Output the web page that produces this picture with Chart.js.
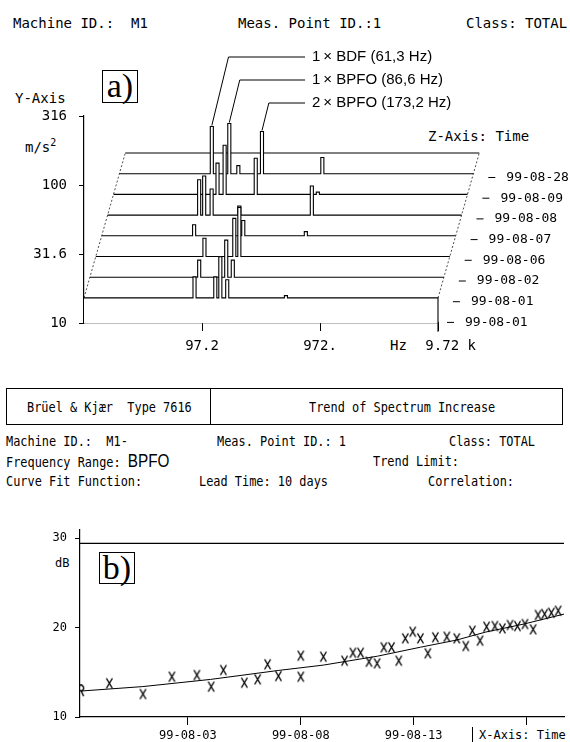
<!DOCTYPE html>
<html>
<head>
<meta charset="UTF-8">
<title>Trend of Spectrum Increase</title>
<script src="https://cdn.jsdelivr.net/npm/chart.js@4"></script>
<style>
  body { margin: 0; background: #fff; }
  #page { position: relative; width: 570px; height: 742px; overflow: hidden; color: #000;
          font-family: 'DejaVu Sans Mono', monospace; font-size: 14px; }
  .t { position: absolute; white-space: pre; line-height: 14px; }
  .n { transform: scaleX(0.85); transform-origin: left center; }
  .s { font-size: 12px; line-height: 12px; }
  .tag { position: absolute; border: 1.5px solid #000; box-sizing: border-box; text-align: center;
         font-family: 'Liberation Serif', serif; font-size: 34px; line-height: 30px; }
  .sans { font-family: 'Liberation Sans', sans-serif; font-size: 18px; }
  canvas { position: absolute; left: 0; }
</style>
</head>
<body>
<div id="page">
  <!-- header -->
  <div class="t" style="left:13px;top:16px">Machine ID.:  M1</div>
  <div class="t" style="left:238px;top:16px">Meas. Point ID.:1</div>
  <div class="t" style="left:466px;top:16px">Class: TOTAL</div>

  <!-- panel a texts -->
  <div class="tag" style="left:102px;top:70px;width:36px;height:33px">a)</div>
  <div class="t" style="left:15px;top:91px">Y-Axis</div>
  <div class="t" style="left:25px;top:136px">m/s<sup style="font-size:10px">2</sup></div>
  <div class="t" style="left:428px;top:129px">Z-Axis: Time</div>
  <div class="t" style="left:390px;top:338px">Hz</div>

  <canvas id="waterfall" width="570" height="370" style="top:0"></canvas>

  <!-- title box -->
  <div style="position:absolute;left:6px;top:388px;width:557px;height:37px;border:1.5px solid #000;box-sizing:border-box"></div>
  <div style="position:absolute;left:210px;top:388px;height:37px;border-left:1.5px solid #000"></div>
  <div class="t n" style="left:27px;top:400px">Brüel &amp; Kjær  Type 7616</div>
  <div class="t n" style="left:309px;top:400px">Trend of Spectrum Increase</div>

  <!-- trend info -->
  <div class="t n" style="left:6px;top:434px">Machine ID.:  M1-</div>
  <div class="t n" style="left:217px;top:434px">Meas. Point ID.: 1</div>
  <div class="t n" style="left:449px;top:434px">Class: TOTAL</div>
  <div class="t n" style="left:6px;top:454px">Frequency Range: <span class="sans">BPFO</span></div>
  <div class="t n" style="left:373px;top:454px">Trend Limit:</div>
  <div class="t n" style="left:6px;top:474px">Curve Fit Function:</div>
  <div class="t n" style="left:199px;top:474px">Lead Time: 10 days</div>
  <div class="t n" style="left:428px;top:474px">Correlation:</div>

  <!-- panel b texts -->
  <div class="t s" style="left:55px;top:557px">dB</div>
  <div class="tag" style="left:99px;top:552px;width:36px;height:32px">b)</div>
  <div style="position:absolute;left:472px;top:727px;height:15px;border-left:1px solid #000"></div>
  <div class="t s" style="left:479px;top:729px">X-Axis: Time</div>

  <canvas id="trend" width="570" height="242" style="top:500px"></canvas>
</div>

<script>
// ---------- panel a: spectra waterfall (front trace first) ----------
const traceDates = ['99-08-01', '99-08-01', '99-08-02', '99-08-06', '99-08-07', '99-08-08', '99-08-09', '99-08-28'];
const noiseFloor = [15.2, 15.2, 15.2, 15.2, 15.2, 15.2, 15.2, 15.2]; // m/s2
const spikeHz = [
    [84, 126, 139, 159, 500],
    [82, 139, 158],
    [81, 145, 160],
    [59, 154, 522],
    [58, 64, 74, 127, 523],
    [74, 85, 156, 524],
    [59, 83, 99, 157, 510],
    []
];
const spikeAmp = [
    [21.6, 21.6, 30.2, 20.6, 15.8],
    [20.2, 28.2, 20.2],
    [20.6, 28.7, 34.5],
    [18.3, 19.6, 16.3],
    [27.4, 29.2, 23.5, 17.7, 24.7],
    [25.6, 34.5, 27.8, 15.8],
    [33.4, 35.1, 17.4, 30.7, 19.9],
    []
];
const freqTicks = [97.2, 972, 9720];
const freqTickLabels = ['97.2', '972.', '   9.72 k'];
const ampTicks = [10, 31.6, 100, 316];
const ampTickLabels = ['10', '31.6', '100', '316'];
const peakTrace = 6; // 99-08-09
const peakHz = [59, 83, 157];
const peakLabels = ['1\u2009\u00d7 BDF (61,3 Hz)', '1\u2009\u00d7 BPFO (86,6 Hz)', '2\u2009\u00d7 BPFO (173,2 Hz)'];

// ---------- panel b: trend ----------
const refDay = [-1.75];
const refDb = [12.94];
const trendDay = [-0.48, 1.01, 2.29, 3.40, 4.03, 4.57, 5.50, 6.09, 6.53, 7.01, 8.00, 8.00, 9.00, 9.94,
    10.31, 10.65, 11.02, 11.38, 11.68, 12.02, 12.34, 12.63, 12.96, 13.30, 13.63, 13.96, 14.47, 14.91,
    15.31, 15.60, 15.94, 16.23, 16.60, 16.93, 17.27, 17.60, 17.93, 18.29, 18.51, 18.80, 19.10, 19.40];
const trendDb = [13.77, 12.57, 14.50, 14.69, 13.39, 15.25, 13.83, 14.21, 15.89, 14.58, 16.85, 14.50, 16.74, 16.29,
    17.18, 17.18, 16.18, 16.00, 17.79, 17.79, 16.29, 18.79, 19.53, 18.79, 17.12, 18.91, 18.97, 18.79,
    17.93, 19.64, 18.53, 20.09, 20.17, 19.91, 20.28, 20.17, 20.39, 19.80, 21.40, 21.51, 21.65, 21.88];
const fitDay = [-1.75, 1.0, 4.0, 7.0, 9.0, 11.4, 13.3, 14.9, 16.2, 17.9, 19.66];
const fitDb = [12.9, 13.4, 14.2, 15.2, 15.8, 16.8, 17.8, 18.6, 19.5, 20.4, 21.5];
const limitDb = [29.4];
const dayTicks = [3, 8, 13, 18];
const dayTickLabels = ['99-08-03', '99-08-08', '99-08-13', ''];

// waterfall geometry (decades)
const F_MIN = 9.72, F_MAX = 9720;
const DX = 0.05, DY = 0.15, SPIKE_W = 0.026, DROP = 0.175, FRONT_DROP = 0.245;
const MONO = 'DejaVu Sans Mono';

function baseOf(k) { return Math.log10(noiseFloor[k]) + k * DY; }

function tracePoints(k) {
    const ox = k * DX, base = baseOf(k);
    const pts = [{x: Math.log10(F_MIN) + ox, y: base}];
    spikeHz[k].forEach((f, i) => {
        const c = Math.log10(f) + ox, top = Math.log10(spikeAmp[k][i]) + k * DY;
        pts.push({x: c - SPIKE_W / 2, y: base}, {x: c - SPIKE_W / 2, y: top},
                 {x: c + SPIKE_W / 2, y: top}, {x: c + SPIKE_W / 2, y: base});
    });
    const xr = Math.log10(F_MAX) + ox;
    pts.push({x: xr, y: base}, {x: xr, y: base - (k === 0 ? FRONT_DROP : DROP)});
    return pts;
}

const last = traceDates.length - 1;
const wfSets = traceDates.map((d, k) => ({
    data: tracePoints(k),
    borderColor: '#000', borderWidth: 1.1, pointRadius: 0,
    fill: 'start', backgroundColor: '#fff', clip: false, order: k
}));
// perspective guides
[F_MIN, F_MAX].forEach(f => wfSets.push({
    data: [{x: Math.log10(f), y: baseOf(0)}, {x: Math.log10(f) + last * DX, y: baseOf(last)}],
    borderColor: '#000', borderWidth: 0.7, borderDash: [2, 2], pointRadius: 0,
    fill: false, clip: false, order: -1
}));

const wfLabels = {
    id: 'wfLabels',
    afterDatasetsDraw(chart) {
        const {ctx, scales: {x, y}} = chart;
        ctx.save();
        ctx.fillStyle = '#000';
        ctx.strokeStyle = '#000';
        ctx.lineWidth = 1;
        ctx.textBaseline = 'middle';
        ctx.font = '13px "' + MONO + '"';
        traceDates.forEach((d, k) => {
            const px = x.getPixelForValue(Math.log10(F_MAX) + k * DX);
            const py = y.getPixelForValue(baseOf(k)) + 24.5;
            ctx.beginPath();
            ctx.moveTo(px + 9, py); ctx.lineTo(px + 16, py);
            ctx.stroke();
            ctx.fillText(d, px + 27, py);
        });
        // peak annotations
        ctx.font = '15px "Liberation Sans"';
        peakHz.forEach((f, i) => {
            const amp = spikeAmp[peakTrace][spikeHz[peakTrace].indexOf(f)];
            const sx = x.getPixelForValue(Math.log10(f) + peakTrace * DX);
            const sy = y.getPixelForValue(Math.log10(amp) + peakTrace * DY);
            const ly = 57 + i * 23;
            const cx = sx + 0.24 * (sy - ly);
            ctx.beginPath();
            ctx.moveTo(sx, sy - 1); ctx.lineTo(cx, ly); ctx.lineTo(305, ly);
            ctx.stroke();
            ctx.fillText(peakLabels[i], 312, ly);
        });
        ctx.restore();
    }
};

new Chart(document.getElementById('waterfall'), {
    type: 'line',
    data: {datasets: wfSets},
    options: {
        responsive: false, animation: false, events: [],
        layout: {padding: {left: 0, right: 132, top: 116, bottom: 0}},
        plugins: {legend: {display: false}, tooltip: {enabled: false}},
        scales: {
            x: {
                type: 'linear', min: Math.log10(F_MIN), max: Math.log10(F_MAX), z: 1,
                afterFit: s => { s.height = 47; },
                afterBuildTicks: s => { s.ticks = freqTicks.map(v => ({value: Math.log10(v)})); },
                ticks: {callback: (v, i) => freqTickLabels[i], color: '#000', padding: 7, maxRotation: 0, autoSkip: false,
                        font: {family: MONO, size: 14}},
                grid: {drawOnChartArea: false, tickLength: 8, color: '#000'},
                border: {color: '#000', width: 1.2}
            },
            y: {
                type: 'linear', min: 1, max: 2.5, z: 1,
                afterFit: s => { s.width = 84; },
                afterBuildTicks: s => { s.ticks = ampTicks.map(v => ({value: Math.log10(v)})); },
                ticks: {callback: (v, i) => ampTickLabels[i], color: '#000', padding: 12, autoSkip: false,
                        font: {family: MONO, size: 14}},
                grid: {drawOnChartArea: false, tickLength: 5, color: '#000'},
                border: {color: '#000', width: 1.2}
            }
        }
    },
    plugins: [wfLabels]
});

// ---------- trend chart ----------
// plotter style marker letters
function glyph(strokes) {
    const c = document.createElement('canvas');
    c.width = 9; c.height = 13;
    const g = c.getContext('2d');
    g.strokeStyle = '#000';
    g.lineWidth = 1.4;
    g.beginPath();
    strokes.forEach(s => { g.moveTo(s[0], s[1]); g.lineTo(s[2], s[3]); });
    g.stroke();
    return c;
}

const xMark = glyph([[1.5, 1.5, 7.5, 11.5], [7.5, 1.5, 1.5, 11.5]]);
const rMark = glyph([[2, 1, 2, 12], [2, 1, 6, 1], [6, 1, 7.5, 3], [7.5, 3, 7.5, 5], [7.5, 5, 6, 6.5], [6, 6.5, 2, 6.5], [5, 6.5, 7.5, 12]]);

new Chart(document.getElementById('trend'), {
    type: 'line',
    data: {
        datasets: [
            {data: trendDay.map((d, i) => ({x: d, y: trendDb[i]})), showLine: false,
             pointStyle: xMark, pointRadius: 5, order: 0},
            {data: refDay.map((d, i) => ({x: d, y: refDb[i]})), showLine: false,
             pointStyle: rMark, pointRadius: 5, order: 0},
            {data: fitDay.map((d, i) => ({x: d, y: fitDb[i]})), borderColor: '#000', borderWidth: 1,
             pointRadius: 0, order: 1},
            {data: [{x: -1.78, y: limitDb[0]}, {x: 19.66, y: limitDb[0]}], borderColor: '#000', borderWidth: 1.2,
             pointRadius: 0, order: 1}
        ]
    },
    options: {
        responsive: false, animation: false, events: [],
        layout: {padding: {left: 0, right: 4, top: 30, bottom: 0}},
        plugins: {legend: {display: false}, tooltip: {enabled: false}},
        scales: {
            x: {
                type: 'linear', min: -1.78, max: 19.66,
                afterFit: s => { s.height = 25; },
                afterBuildTicks: s => { s.ticks = dayTicks.map(v => ({value: v})); },
                ticks: {callback: (v, i) => dayTickLabels[i], color: '#000', padding: 4, maxRotation: 0, autoSkip: false,
                        font: {family: MONO, size: 12}},
                grid: {drawOnChartArea: false, tickLength: 8, color: '#000'},
                border: {color: '#000', width: 1.3}
            },
            y: {
                type: 'linear', min: 10, max: 30.9,
                afterFit: s => { s.width = 80; },
                afterBuildTicks: s => { s.ticks = [10, 20, 30].map(v => ({value: v})); },
                ticks: {color: '#000', padding: 8, autoSkip: false, font: {family: MONO, size: 12}},
                grid: {drawOnChartArea: false, tickLength: 5, color: '#000'},
                border: {color: '#000', width: 1.2}
            }
        }
    }
});
</script>
</body>
</html>
